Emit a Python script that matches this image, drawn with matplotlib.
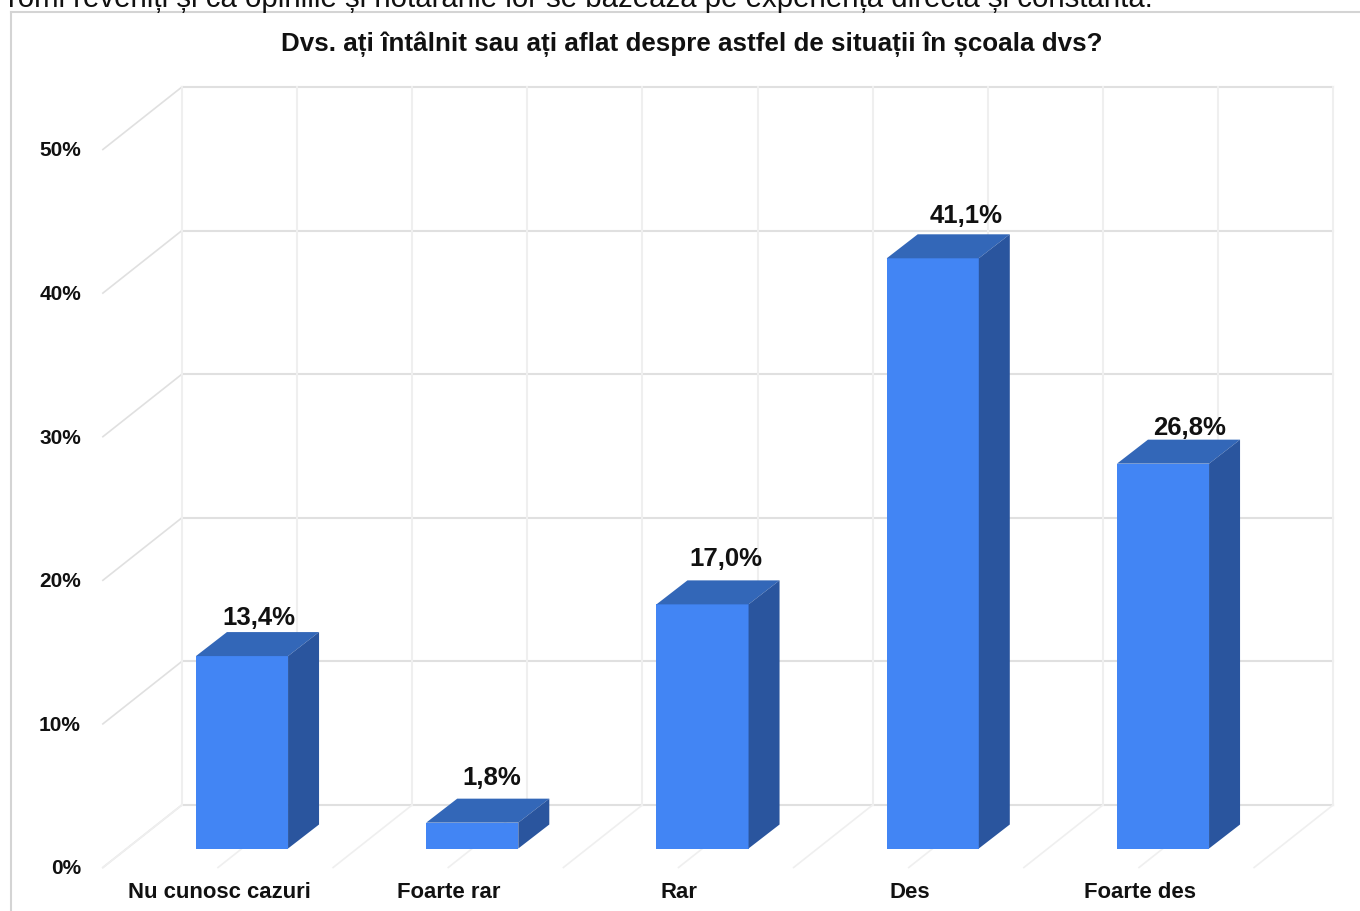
import matplotlib
matplotlib.use('Agg')
import matplotlib.pyplot as plt
from matplotlib.patches import Polygon

plt.rcParams['font.family'] = ['Liberation Sans', 'DejaVu Sans']

categories = ['Nu cunosc cazuri', 'Foarte rar', 'Rar', 'Des', 'Foarte des']
values = [13.4, 1.8, 17.0, 41.1, 26.8]
value_labels = ['13,4%', '1,8%', '17,0%', '41,1%', '26,8%']
y_ticks = [0, 10, 20, 30, 40, 50]
y_tick_labels = ['0%', '10%', '20%', '30%', '40%', '50%']

title = 'Dvs. ați întâlnit sau ați aflat despre astfel de situații în școala dvs?'
page_text = 'romi reveniți și ca opiniile și hotărârile lor se bazează pe experiența directă și constantă.'

# pixel scale of the chart, the whole figure is one axes
W, H = 1360, 911
PX_CAT = 230.25
PX_PCT = 14.36
X0_PX = 242
Y0_PX = 848.5
BAR_W = 0.4


def dx(px):
    return px / PX_CAT


def dy(px):
    return px / PX_PCT


# label nudges in pixels, from the front top corner of the bar
label_dx = [17, 20, 23, 33, 27]
label_dy = [38, 45, 45, 42, 36]

fig = plt.figure(figsize=(W / 100, H / 100), dpi=100)
ax = fig.add_axes([0, 0, 1, 1])
ax.set_xlim(-X0_PX / PX_CAT, (W - X0_PX) / PX_CAT)
ax.set_ylim(-(H - Y0_PX) / PX_PCT, Y0_PX / PX_PCT)
ax.axis('off')

# depth of the planes compared to the plane of the bar fronts
front_x, front_y = dx(-24), dy(-19)
wall_x, wall_y = dx(55), dy(43.5)
side_x, side_y = dx(31), dy(24)

n = len(categories)
left = -0.5 + wall_x
right = n - 0.5 + wall_x

# back wall and left side
for t in y_ticks:
    ax.plot([left, right], [t + wall_y, t + wall_y], color='#e0e0e0', lw=1.5, zorder=1)
    ax.plot([-0.5 + front_x, left], [t + front_y, t + wall_y], color='#e0e0e0', lw=1.2, zorder=1)
    ax.text(-0.5 + dx(-46), t + front_y - dy(1.5), y_tick_labels[t // 10], ha='right', va='center',
            fontsize=15, fontweight='bold', color='#111111')

# vertical wall lines and floor lines
for k in range(2 * n + 1):
    x = -0.5 + k / 2
    ax.plot([x + wall_x, x + wall_x], [wall_y, max(y_ticks) + wall_y], color='#efefef', lw=1.5, zorder=1.1)
    ax.plot([x + front_x, x + wall_x], [front_y, wall_y], color='#efefef', lw=1.2, zorder=1.1)

# bars
for i, v in enumerate(values):
    x1, x2 = i - BAR_W / 2, i + BAR_W / 2
    ax.add_patch(Polygon([(x1, 0), (x2, 0), (x2, v), (x1, v)], facecolor='#4285f4', edgecolor='none', zorder=3))
    ax.add_patch(Polygon([(x1, v), (x2, v), (x2 + side_x, v + side_y), (x1 + side_x, v + side_y)],
                         facecolor='#3367b8', edgecolor='none', zorder=3))
    ax.add_patch(Polygon([(x2, 0), (x2 + side_x, side_y), (x2 + side_x, v + side_y), (x2, v)],
                         facecolor='#2a559e', edgecolor='none', zorder=3))
    ax.text(i + dx(label_dx[i]), v + dy(label_dy[i]), value_labels[i], ha='center', va='center',
            fontsize=18.5, fontweight='bold', color='#111111', zorder=4)
    ax.text(i + dx(-23), dy(-44.5), categories[i], ha='center', va='center',
            fontsize=15.9, fontweight='bold', color='#111111')

ax.text(dx(692 - X0_PX), dy(Y0_PX - 44), title, ha='center', va='center',
        fontsize=18.7, fontweight='bold', color='#111111')

# chart frame and the line of page text above it
ax.plot([dx(11 - X0_PX)] * 2, [dy(Y0_PX - 12), dy(Y0_PX - 911)], color='#d4d4d4', lw=1.5, zorder=2)
ax.plot([dx(11 - X0_PX), dx(W - X0_PX)], [dy(Y0_PX - 12)] * 2, color='#d4d4d4', lw=1.5, zorder=2)
ax.text(dx(8 - X0_PX), dy(Y0_PX - 7), page_text, ha='left', va='baseline',
        fontsize=21.2, color='#111111')

fig.savefig('out.png', dpi=100, facecolor='white')
